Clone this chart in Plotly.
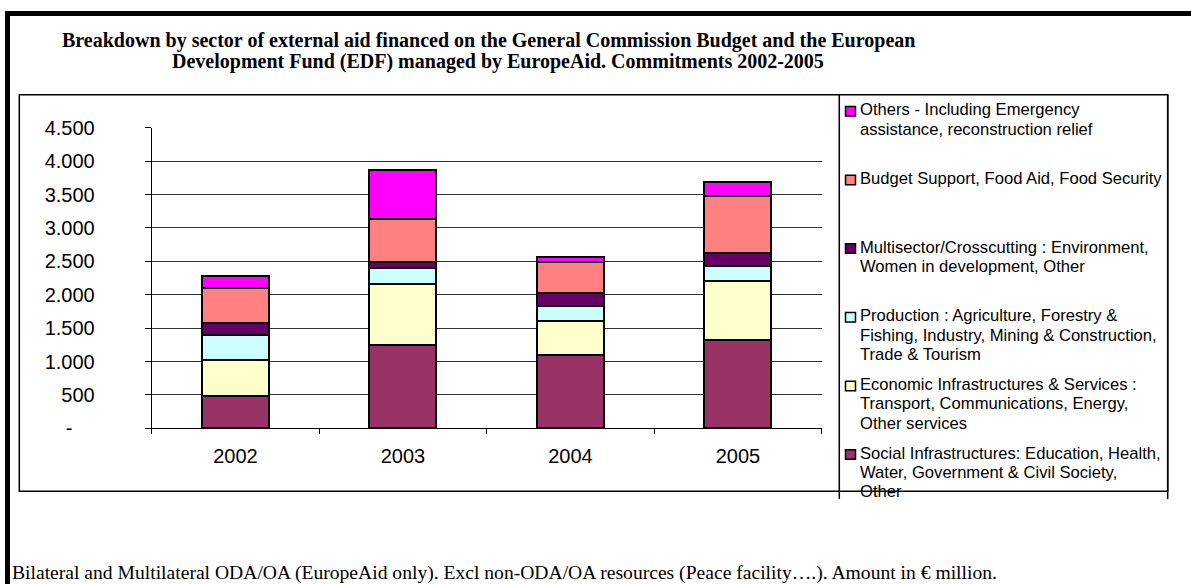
import plotly.graph_objects as go

W, H = 1191, 584

# Commitments by sector, € million
years = ["2002", "2003", "2004", "2005"]
social = [479, 1247, 1097, 1322]
economic = [548, 913, 514, 888]
production = [374, 244, 224, 220]
multisector = [180, 81, 186, 199]
budget = [524, 648, 473, 853]
others = [179, 734, 75, 205]

# Legend labels, one list of lines per sector (stack order, bottom to top)
social_label = ["Social Infrastructures: Education, Health,",
                "Water, Government & Civil Society,", "Other"]
economic_label = ["Economic Infrastructures & Services :",
                  "Transport, Communications, Energy,", "Other services"]
production_label = ["Production : Agriculture, Forestry &",
                    "Fishing, Industry, Mining & Construction,", "Trade & Tourism"]
multisector_label = ["Multisector/Crosscutting : Environment,",
                     "Women in development, Other"]
budget_label = ["Budget Support, Food Aid, Food Security"]
others_label = ["Others - Including Emergency",
                "assistance, reconstruction relief"]

colors = ["#993366", "#FFFFCC", "#CCFFFF", "#660066", "#FF8080", "#FF00FF"]

y_tick_vals = [0, 500, 1000, 1500, 2000, 2500, 3000, 3500, 4000, 4500]
y_tick_text = ["-\u00a0\u00a0\u00a0\u00a0", "500", "1.000", "1.500", "2.000",
               "2.500", "3.000", "3.500", "4.000", "4.500"]

title_lines = [
    "Breakdown by sector of external aid financed on the General Commission Budget and the European",
    "Development Fund (EDF) managed by EuropeAid. Commitments 2002-2005",
]
note = ("Bilateral and Multilateral ODA/OA (EuropeAid only). Excl non-ODA/OA "
        "resources (Peace facility\u2026.). Amount in \u20ac million.")

series = [
    (social, social_label),
    (economic, economic_label),
    (production, production_label),
    (multisector, multisector_label),
    (budget, budget_label),
    (others, others_label),
]


def px(x):
    return x / W


def py(y):
    return 1 - y / H


SANS = "Liberation Sans, Arial, sans-serif"
SERIF = "Liberation Serif, Times New Roman, serif"

fig = go.Figure()
for (values, _), color in zip(series, colors):
    fig.add_trace(go.Bar(
        x=years, y=values, width=0.4,
        marker=dict(color=color, line=dict(color="black", width=2)),
        showlegend=False,
    ))

shapes = []
annotations = []

# Heavy frame along the top and left edges
shapes.append(dict(type="line", xref="paper", yref="paper",
                   x0=px(7.5), x1=px(7.5), y0=py(584), y1=py(11.5),
                   line=dict(color="black", width=5)))
shapes.append(dict(type="line", xref="paper", yref="paper",
                   x0=px(5), x1=px(1191), y0=py(13.5), y1=py(13.5),
                   line=dict(color="black", width=5)))

# Chart area box
shapes.append(dict(type="rect", xref="paper", yref="paper",
                   x0=px(19.3), x1=px(1167.7), y0=py(491.3), y1=py(94.7),
                   line=dict(color="black", width=1.5), layer="above"))
# Legend box sides
for lx in (839.3, 1167.7):
    shapes.append(dict(type="line", xref="paper", yref="paper",
                       x0=px(lx), x1=px(lx), y0=py(94.7), y1=py(499),
                       line=dict(color="black", width=1.5)))

# Title
for text, cx, cy in zip(title_lines, (488, 498), (40.5, 61)):
    annotations.append(dict(
        text=f"<b>{text}</b>", xref="paper", yref="paper",
        x=px(cx), y=py(cy), xanchor="center", yanchor="middle",
        showarrow=False, font=dict(family=SERIF, size=20, color="black")))

# Legend: top entry is the top of the stack
first_line_y = 110.0
item_pitch = 68.66
line_pitch = 19.2
for i, ((_, lines), color) in enumerate(zip(reversed(series), reversed(colors))):
    y0 = first_line_y + i * item_pitch
    shapes.append(dict(type="rect", xref="paper", yref="paper",
                       x0=px(845.5), x1=px(855.5), y0=py(y0 + 6), y1=py(y0 - 3.5),
                       fillcolor=color, line=dict(color="black", width=1.5)))
    for j, line in enumerate(lines):
        annotations.append(dict(
            text=line, xref="paper", yref="paper",
            x=px(858), y=py(y0 + j * line_pitch), xanchor="left", yanchor="middle",
            showarrow=False, font=dict(family=SANS, size=16.6, color="black")))

# Footnote
annotations.append(dict(
    text=note, xref="paper", yref="paper", x=px(10), y=py(573),
    xanchor="left", yanchor="middle", showarrow=False,
    font=dict(family=SERIF, size=19.6, color="black")))

fig.update_layout(
    width=W, height=H, autosize=False,
    margin=dict(l=0, r=0, t=0, b=0, pad=0, autoexpand=False),
    paper_bgcolor="white", plot_bgcolor="white",
    barmode="stack",
    showlegend=False,
    xaxis=dict(
        domain=[px(151.7), px(821.7)], type="category", range=[-0.5, 3.5],
        showline=True, linecolor="black", linewidth=1,
        ticks="outside", tickson="boundaries", ticklen=5, tickcolor="black",
        tickfont=dict(family=SANS, size=20, color="black"),
        showgrid=False, ticklabelstandoff=10, automargin=False,
    ),
    yaxis=dict(
        domain=[py(428.3), py(127.7)], range=[0, 4500],
        tickvals=y_tick_vals, ticktext=y_tick_text,
        showgrid=True, gridcolor="#333333", gridwidth=1, zeroline=False,
        showline=True, linecolor="black", linewidth=1,
        ticks="outside", ticklen=6, tickcolor="black",
        tickfont=dict(family=SANS, size=20, color="black"),
        ticklabelstandoff=46, automargin=False,
    ),
    shapes=shapes,
    annotations=annotations,
)

fig.write_html("out.html")
